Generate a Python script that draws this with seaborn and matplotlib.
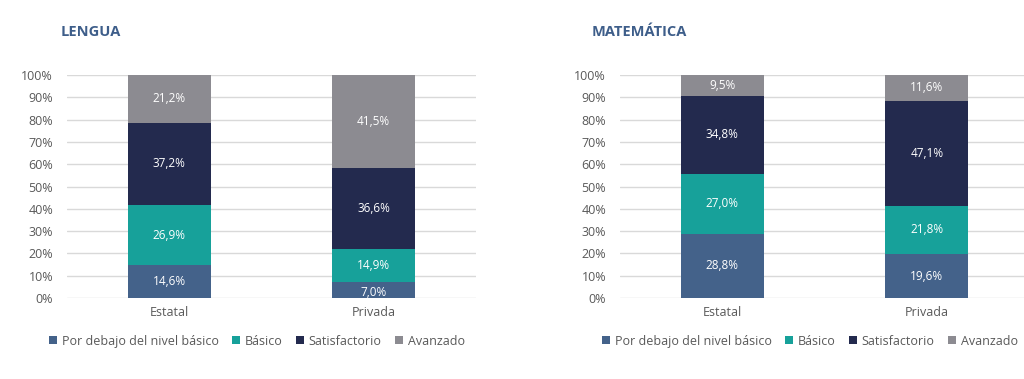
import numpy as np
import pandas as pd
import seaborn as sns
import matplotlib.pyplot as plt

sns.set_style("white")
plt.rcParams['font.family'] = ['Open Sans', 'DejaVu Sans']

categorias = ["Estatal", "Privada"]
niveles = ["Por debajo del nivel básico", "Básico", "Satisfactorio", "Avanzado"]
colores = ["#44628A", "#17A19A", "#232A4E", "#8C8B91"]

lengua = {
    "Por debajo del nivel básico": [14.6, 7.0],
    "Básico": [26.9, 14.9],
    "Satisfactorio": [37.2, 36.6],
    "Avanzado": [21.2, 41.5],
}
matematica = {
    "Por debajo del nivel básico": [28.8, 19.6],
    "Básico": [27.0, 21.8],
    "Satisfactorio": [34.8, 47.1],
    "Avanzado": [9.5, 11.6],
}

gris = "#595959"
fig = plt.figure(figsize=(10.24, 3.79), dpi=100)
ax1 = fig.add_axes([0.0654, 0.2137, 0.3994, 0.5884])
ax2 = fig.add_axes([0.6055, 0.2137, 0.3994, 0.5884])


def panel(ax, datos, titulo, tx, lx):
    base = np.zeros(len(categorias))
    for nivel, col in zip(niveles, colores):
        vals = np.array(datos[nivel])
        df = pd.DataFrame({"cat": categorias, "val": vals})
        sns.barplot(data=df, x="cat", y="val", bottom=base, color=col,
                    width=0.405, label=nivel, ax=ax, saturation=1, zorder=3,
                    linewidth=0, edgecolor=col)
        for i, v in enumerate(vals):
            y = base[i] + v / 2
            if v < 8:
                y = base[i] + v / 2 - 1.2
            ax.text(i, y, f"{v:.1f}%".replace(".", ","), ha="center", va="center",
                    color="white", fontsize=8.5, zorder=4)
        base = base + vals
    ax.set_ylim(0, 100)
    ax.set_xlim(-0.5, 1.5)
    ax.set_yticks(np.arange(0, 101, 10))
    ax.set_yticklabels([f"{t}%" for t in range(0, 101, 10)])
    ax.yaxis.grid(True, color="#D9D9D9", linewidth=1, zorder=0)
    ax.set_axisbelow(True)
    for s in ax.spines.values():
        s.set_visible(False)
    ax.tick_params(axis="both", length=0, labelsize=9, colors=gris, pad=6)
    ax.tick_params(axis="y", pad=10)
    ax.set_xlabel("")
    ax.set_ylabel("")
    handles, labels = ax.get_legend_handles_labels()
    if ax.get_legend() is not None:
        ax.get_legend().remove()
    fig.legend(handles, labels, loc="center", bbox_to_anchor=(lx, 0.1), ncol=4,
               frameon=False, fontsize=9, labelcolor=gris, handlelength=0.6,
               handleheight=0.6, handletextpad=0.4, columnspacing=1.1)
    fig.text(tx, 0.915, titulo, fontsize=10.5, fontweight="bold", color="#3E5E8A",
             va="center")


panel(ax1, lengua, "LENGUA", 0.059, 0.251)
panel(ax2, matematica, "MATEMÁTICA", 0.578, 0.791)

fig.savefig("out.png", dpi=100)
